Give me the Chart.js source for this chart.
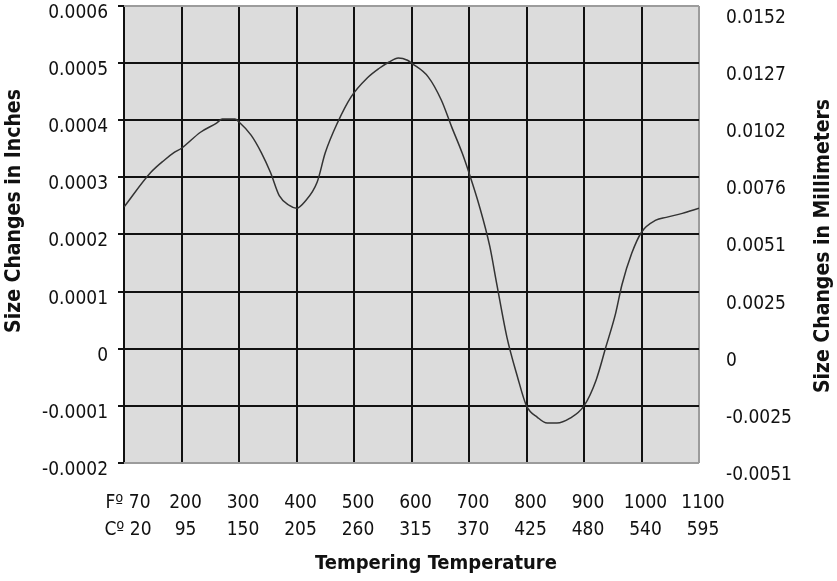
<!DOCTYPE html>
<html>
<head>
<meta charset="utf-8">
<script src="https://cdn.jsdelivr.net/npm/chart.js@4.4.1/dist/chart.umd.min.js"></script>
<style>
  html, body { margin: 0; padding: 0; background: #fff; }
  #wrap { width: 837px; height: 581px; }
</style>
</head>
<body>
<div id="wrap"><canvas id="chart" width="837" height="581"></canvas></div>
<script>
// tick labels along the bottom (one column per grid line)
var fahrenheit = ['70', '200', '300', '400', '500', '600', '700', '800', '900', '1000', '1100'];
var celsius = ['20', '95', '150', '205', '260', '315', '370', '425', '480', '540', '595'];

// left axis in inches, right axis shows the same lines in millimetres
var inchTicks = [-0.0002, -0.0001, 0, 0.0001, 0.0002, 0.0003, 0.0004, 0.0005, 0.0006];
var mmTicks = ['-0.0051', '-0.0025', '0', '0.0025', '0.0051', '0.0076', '0.0102', '0.0127', '0.0152'];

// size change curve: x = position along the temperature columns, y = inches
var curveX = [0, 0.46, 0.70, 0.88, 1.0, 1.33, 1.61, 1.71, 1.93, 2.0, 2.21, 2.39, 2.55, 2.70, 2.875,
  3.0, 3.14, 3.36, 3.5, 3.71, 3.95, 4.23, 4.44, 4.61, 4.77, 4.93, 5.0, 5.29, 5.52, 5.70, 5.88,
  6.0, 6.18, 6.36, 6.48, 6.66, 6.84, 7.0, 7.19, 7.36, 7.53, 7.75, 8.0, 8.21, 8.38, 8.55, 8.66,
  8.83, 9.0, 9.25, 9.43, 9.71, 10.0];
var curveY = [0.000248, 0.000308, 0.00033, 0.000344, 0.000351, 0.000379, 0.000395, 0.000402, 0.000402,
  0.000397, 0.000374, 0.000343, 0.000308, 0.000268, 0.000251, 0.000246, 0.000257, 0.000292, 0.000343,
  0.000395, 0.000441, 0.000474, 0.000491, 0.000502, 0.000509, 0.000505, 0.0005, 0.000476, 0.000435,
  0.000388, 0.000343, 0.000308, 0.00025, 0.00018, 0.000115, 0.00002, -0.000048, -0.0001, -0.00012,
  -0.00013, -0.00013, -0.000122, -0.0001, -0.000055, 0.000003, 0.000062, 0.000112, 0.000167, 0.000204,
  0.000225, 0.00023, 0.000237, 0.000246];

var points = curveX.map(function (x, i) { return { x: x, y: curveY[i] }; });

var FONT = "'DejaVu Sans Condensed', 'Liberation Sans', sans-serif";
var GRID = '#111111';
var EDGE = '#9c9c9c';

// grey plot background
var plotBackground = {
  id: 'plotBackground',
  beforeDraw: function (chart) {
    var a = chart.chartArea, c = chart.ctx;
    c.save();
    c.fillStyle = '#dcdcdc';
    c.fillRect(a.left, a.top, a.right - a.left, a.bottom - a.top);
    c.restore();
  }
};

// axis titles (both side titles read upwards)
var axisTitles = {
  id: 'axisTitles',
  afterDraw: function (chart) {
    var c = chart.ctx;
    c.save();
    c.fillStyle = '#111';
    c.textAlign = 'center';
    c.textBaseline = 'alphabetic';
    c.font = 'bold 20px ' + FONT;
    c.fillText('Tempering Temperature', 436, 569);

    c.font = 'bold 21px ' + FONT;
    c.translate(20, 211);
    c.rotate(-Math.PI / 2);
    c.fillText('Size Changes in Inches', 0, 0);
    c.restore();

    c.save();
    c.fillStyle = '#111';
    c.font = 'bold 21px ' + FONT;
    c.textAlign = 'center';
    c.translate(829, 246);
    c.rotate(-Math.PI / 2);
    c.fillText('Size Changes in Millimeters', 0, 0);
    c.restore();
  }
};

// keep the plot box fixed: no extra room for half-labels at the ends
function noPad(s) {
  s.paddingTop = 0;
  s.paddingBottom = 0;
  s.paddingLeft = 0;
  s.paddingRight = 0;
}

var chart = new Chart('chart', {
  type: 'line',
  data: {
    datasets: [{
      data: points,
      borderColor: '#333333',
      borderWidth: 1.5,
      pointRadius: 0,
      cubicInterpolationMode: 'monotone',
      fill: false
    }]
  },
  options: {
    responsive: false,
    animation: false,
    layout: { padding: { top: 6, left: 0, right: 0, bottom: 0 } },
    plugins: { legend: { display: false }, tooltip: { enabled: false } },
    scales: {
      x: {
        type: 'linear',
        min: 0,
        max: 10,
        afterBuildTicks: function (s) { s.ticks = fahrenheit.map(function (f, i) { return { value: i }; }); },
        afterFit: function (s) { s.height = 118; noPad(s); },
        border: { display: false },
        grid: {
          color: function (ctx) { return ctx.index === 10 ? EDGE : GRID; },
          lineWidth: 2,
          drawTicks: false
        },
        ticks: {
          autoSkip: false,
          maxRotation: 0,
          padding: 27,
          labelOffset: 4,
          color: '#111',
          font: { family: FONT, size: 19, lineHeight: 1.4 },
          callback: function (v, i) {
            if (i === 0) return ['Fº 70', 'Cº 20'];
            return [fahrenheit[i], celsius[i]];
          }
        }
      },
      y: {
        position: 'left',
        min: -0.0002,
        max: 0.0006,
        afterBuildTicks: function (s) { s.ticks = inchTicks.map(function (v) { return { value: v }; }); },
        afterFit: function (s) { s.width = 124; noPad(s); },
        border: { display: false },
        grid: {
          color: function (ctx) {
            var v = ctx.tick ? ctx.tick.value : 0;
            return (v === -0.0002 || v === 0.0006) ? EDGE : GRID;
          },
          tickColor: GRID,
          lineWidth: 2,
          tickLength: 6
        },
        ticks: {
          padding: 10,
          labelOffset: 7,
          color: '#111',
          font: { family: FONT, size: 19 },
          callback: function (v) { return String(Number(v.toFixed(4))); }
        }
      },
      y2: {
        position: 'right',
        min: -0.0002,
        max: 0.0006,
        afterBuildTicks: function (s) { s.ticks = inchTicks.map(function (v) { return { value: v }; }); },
        afterFit: function (s) { s.width = 138; noPad(s); },
        border: { display: false },
        grid: { display: false, drawTicks: false },
        ticks: {
          padding: 27,
          labelOffset: 12,
          color: '#111',
          font: { family: FONT, size: 19 },
          callback: function (v, i) { return mmTicks[i]; }
        }
      }
    }
  },
  plugins: [plotBackground, axisTitles]
});
</script>
</body>
</html>
